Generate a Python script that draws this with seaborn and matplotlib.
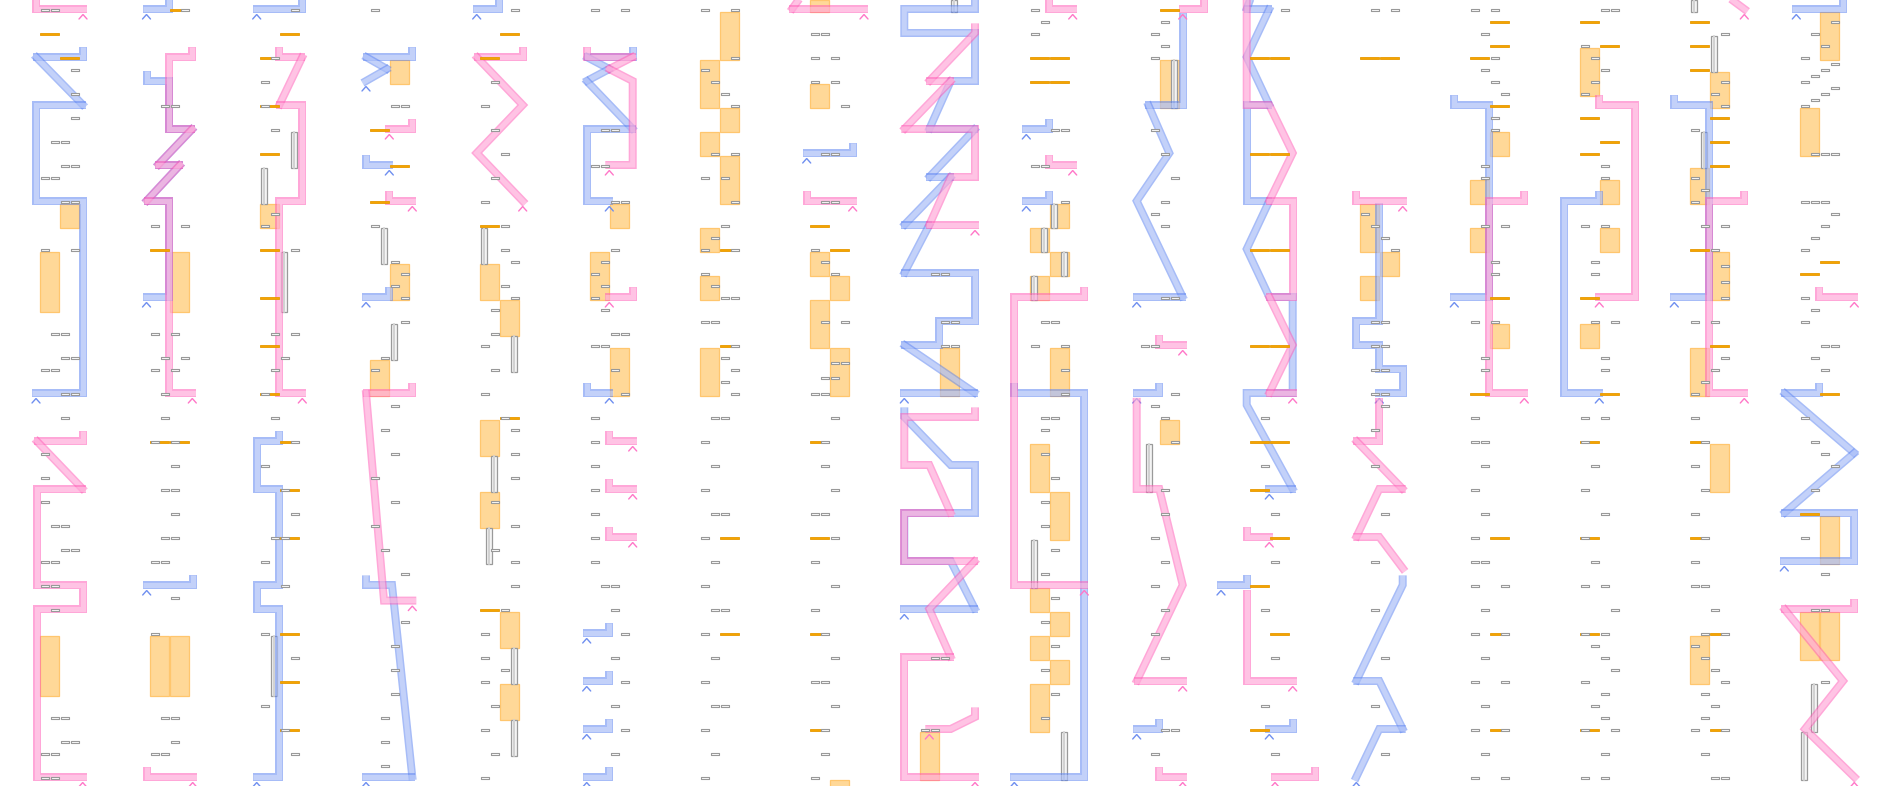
import matplotlib
matplotlib.use("Agg")
import matplotlib.pyplot as plt
from matplotlib.patches import Rectangle
from matplotlib.path import Path
import seaborn as sns
import pandas as pd
import numpy as np

sns.set_theme(style="white")

# ---------------- data (grid units: column, slot, row) ----------------
# gray slot markers: (column, row, slots)
GRAY = [
    (0, 0, "01"), (0, 5, "3"), (0, 7, "3"), (0, 9, "3"), (0, 11, "12"), (0, 13, "23"), (0, 14, "01"),
    (0, 16, "23"), (0, 20, "03"), (0, 27, "12"), (0, 29, "23"), (0, 30, "01"), (0, 32, "23"),
    (1, 0, "3"), (1, 8, "12"), (1, 18, "03"), (1, 27, "02"), (1, 29, "13"), (1, 30, "02"), (1, 32, "1"),
    (2, 0, "3"), (2, 4, "1"), (2, 6, "0"), (2, 8, "0"), (2, 10, "1"), (2, 17, "1"), (2, 18, "0"), (2, 20, "3"),
    (2, 27, "13"), (2, 29, "2"), (2, 30, "1"), (2, 32, "0"),
    (3, 0, "0"), (3, 8, "23"), (3, 18, "0"), (3, 21, "2"), (3, 22, "3"), (3, 23, "2"), (3, 24, "3"),
    (3, 26, "3"), (3, 29, "1"), (3, 30, "0"),
    (4, 0, "3"), (4, 6, "1"), (4, 8, "0"), (4, 10, "1"), (4, 12, "2"), (4, 14, "1"), (4, 16, "0"), (4, 18, "2"),
    (4, 20, "2"), (4, 21, "3"), (4, 23, "2"), (4, 24, "3"), (4, 25, "1"), (4, 27, "1"), (4, 28, "0"),
    (4, 30, "1"), (4, 32, "0"),
    (5, 0, "03"), (5, 10, "12"), (5, 13, "01"), (5, 16, "23"), (5, 20, "2"), (5, 21, "1"), (5, 22, "0"),
    (5, 23, "1"), (5, 24, "0"), (5, 25, "1"), (5, 27, "23"), (5, 28, "01"), (5, 30, "2"), (5, 32, "3"),
    (6, 0, "03"), (6, 4, "3"), (6, 5, "0"), (6, 6, "1"), (6, 7, "2"), (6, 8, "3"), (6, 12, "13"), (6, 14, "02"),
    (6, 16, "3"), (6, 18, "2"), (6, 19, "1"), (6, 20, "03"), (6, 22, "0"), (6, 23, "1"), (6, 24, "23"),
    (6, 26, "01"), (6, 28, "3"), (6, 29, "2"), (6, 30, "3"), (6, 31, "2"), (6, 32, "3"),
    (7, 2, "01"), (7, 4, "02"), (7, 6, "02"), (7, 8, "3"), (7, 12, "12"), (7, 16, "12"), (7, 20, "0"),
    (7, 21, "1"), (7, 22, "2"), (7, 26, "13"), (7, 29.4, "23"), (7, 30.7, "12"), (7, 32, "01"),
    (8, 22, "12"), (8, 26, "23"), (8, 28, "23"),
    (9, 0, "0"), (9, 1, "1"), (9, 2, "0"), (9, 10, "23"), (9, 13, "01"), (9, 16, "3"), (9, 26, "12"),
    (9, 28, "03"), (9, 30, "3"), (9, 32, "3"),
    (10, 1, "2"), (10, 2, "1"), (10, 3, "2"), (10, 4, "1"), (10, 10, "1"), (10, 12, "2"), (10, 14, "3"),
    (10, 16, "2"), (10, 17, "1"), (10, 18, "2"), (10, 24, "23"), (10, 28, "01"), (10, 32, "3"),
    (11, 0, "3"),
    (12, 0, "13"), (12, 17, "0"), (12, 18, "1"), (12, 19, "2"), (12, 20, "3"), (12, 26, "12"), (12, 28, "12"),
    (12, 30, "12"), (12, 32, "12"),
    (13, 0, "02"), (13, 2, "1"), (13, 4, "2"), (13, 5, "1"), (13, 6, "2"), (13, 7, "3"), (13, 9, "2"),
    (13, 10, "2"), (13, 13, "1"), (13, 14, "1"), (13, 18, "13"), (13, 21, "2"), (13, 22, "2"), (13, 26, "02"),
    (13, 29, "1"), (13, 30, "1"),
    (14, 0, "23"), (14, 3, "0"), (14, 4, "1"), (14, 5, "2"), (14, 6, "1"), (14, 7, "0"), (14, 13, "2"),
    (14, 14, "2"), (14, 18, "02"), (14, 21, "1"), (14, 22, "1"), (14, 26, "13"), (14, 29, "2"), (14, 30, "2"),
    (15, 2, "3"), (15, 6, "3"), (15, 7, "2"), (15, 8, "3"), (15, 10, "0"), (15, 14, "0"), (15, 15, "1"),
    (15, 16, "0"), (15, 18, "13"), (15, 20, "2"), (15, 21.33, "3"), (15, 22.67, "3"), (15, 24, "3"),
    (15, 26, "02"), (15, 29, "3"), (15, 30, "2"), (15, 31, "1"), (15, 32, "0"),
    (16, 1, "3"), (16, 2, "1"), (16, 3, "2"), (16, 4, "0"), (16, 4.5, "3"), (16, 5, "2"), (16, 5.5, "1"),
    (16, 6, "0"), (16, 6.5, "3"), (16, 7, "2"), (16, 7.5, "1"), (16, 8, "0"), (16, 12, "123"), (16, 16, "012"),
    (16, 17, "3"), (16, 18, "2"), (16, 19, "1"), (16, 20, "0"), (16, 24, "0"), (16, 25, "1"), (16, 26, "0"),
    (16, 28, "23"), (16, 29, "1"), (16, 30, "2"),
    # lower half
    (0, 34, "2"), (0, 37, "0"), (0, 39, "0"), (0, 41, "0"), (0, 43, "12"), (0, 45, "23"), (0, 46, "01"),
    (0, 48, "01"), (0, 50, "1"), (0, 59, "12"), (0, 61, "23"), (0, 62, "01"), (0, 64, "01"),
    (1, 34, "1"), (1, 36, "02"), (1, 38, "2"), (1, 40, "12"), (1, 42, "2"), (1, 44, "12"), (1, 46, "01"),
    (1, 49, "2"), (1, 52, "0"), (1, 59, "12"), (1, 61, "2"), (1, 62, "01"),
    (2, 34, "1"), (2, 36, "3"), (2, 38, "0"), (2, 40, "2"), (2, 42, "3"), (2, 44, "12"), (2, 46, "0"),
    (2, 48, "2"), (2, 52, "0"), (2, 54, "3"), (2, 58, "0"), (2, 60, "2"), (2, 62, "3"),
    (3, 33, "2"), (3, 35, "1"), (3, 37, "2"), (3, 39, "0"), (3, 41, "2"), (3, 43, "0"), (3, 45, "1"),
    (3, 47, "3"), (3, 51, "3"), (3, 53, "2"), (3, 55, "2"), (3, 57, "2"), (3, 59, "1"), (3, 61, "1"), (3, 63, "1"),
    (4, 34, "2"), (4, 35, "3"), (4, 37, "3"), (4, 39, "3"), (4, 41, "1"), (4, 43, "3"), (4, 45, "1"),
    (4, 46, "3"), (4, 48, "3"), (4, 50, "2"), (4, 52, "0"), (4, 54, "0"), (4, 55, "2"), (4, 56, "0"),
    (4, 58, "1"), (4, 60, "0"), (4, 62, "1"), (4, 64, "0"),
    (5, 34, "0"), (5, 36, "0"), (5, 38, "0"), (5, 40, "0"), (5, 42, "0"), (5, 44, "0"), (5, 46, "0"),
    (5, 48, "12"), (5, 50, "2"), (5, 52, "3"), (5, 54, "2"), (5, 56, "3"), (5, 58, "2"), (5, 60, "3"), (5, 62, "2"),
    (6, 34, "12"), (6, 36, "0"), (6, 38, "1"), (6, 40, "0"), (6, 42, "12"), (6, 44, "0"), (6, 46, "1"),
    (6, 48, "0"), (6, 50, "12"), (6, 52, "0"), (6, 54, "1"), (6, 56, "0"), (6, 58, "12"), (6, 60, "0"),
    (6, 62, "1"), (6, 64, "0"),
    (7, 34, "2"), (7, 36, "1"), (7, 38, "1"), (7, 40, "2"), (7, 42, "01"), (7, 44, "2"), (7, 46, "0"),
    (7, 48, "2"), (7, 50, "0"), (7, 52, "1"), (7, 54, "2"), (7, 56, "01"), (7, 58, "2"), (7, 60, "1"),
    (7, 62, "1"), (7, 64, "0"),
    (8, 54, "12"), (8, 60, "01"),
    (9, 34, "12"), (9, 35, "1"), (9, 37, "1"), (9, 39, "2"), (9, 41, "1"), (9, 43, "1"), (9, 45, "2"),
    (9, 47, "1"), (9, 49, "2"), (9, 51, "1"), (9, 53, "2"), (9, 55, "1"), (9, 57, "2"), (9, 59, "1"),
    (10, 33, "1"), (10, 34, "2"), (10, 36, "3"), (10, 40, "2"), (10, 42, "2"), (10, 44, "1"), (10, 46, "2"),
    (10, 48, "1"), (10, 50, "2"), (10, 52, "1"), (10, 54, "2"), (10, 60, "23"), (10, 62, "1"),
    (11, 34, "1"), (11, 38, "1"), (11, 42, "2"), (11, 46, "2"), (11, 50, "1"), (11, 54, "2"), (11, 58, "1"),
    (11, 62, "2"),
    (12, 33, "2"), (12, 35, "1"), (12, 38, "1"), (12, 42, "2"), (12, 46, "1"), (12, 50, "1"), (12, 54, "2"),
    (12, 58, "1"), (12, 62, "2"),
    (13, 34, "0"), (13, 36, "01"), (13, 38, "1"), (13, 40, "0"), (13, 42, "1"), (13, 44, "0"), (13, 46, "01"),
    (13, 48, "03"), (13, 50, "1"), (13, 52, "03"), (13, 54, "1"), (13, 56, "03"), (13, 58, "1"), (13, 60, "03"),
    (13, 62, "1"), (13, 64, "03"),
    (14, 34, "02"), (14, 36, "0"), (14, 38, "1"), (14, 40, "0"), (14, 42, "2"), (14, 44, "0"), (14, 46, "1"),
    (14, 48, "02"), (14, 50, "3"), (14, 52, "02"), (14, 53, "1"), (14, 54, "2"), (14, 55, "3"), (14, 56, "0"),
    (14, 57, "2"), (14, 58, "1"), (14, 59, "2"), (14, 60, "03"), (14, 62, "2"), (14, 64, "02"),
    (15, 34, "0"), (15, 36, "1"), (15, 38, "0"), (15, 40, "1"), (15, 42, "0"), (15, 44, "1"), (15, 46, "0"),
    (15, 48, "01"), (15, 50, "2"), (15, 52, "13"), (15, 53, "0"), (15, 54, "1"), (15, 55, "2"), (15, 56, "3"),
    (15, 57, "1"), (15, 58, "2"), (15, 59, "1"), (15, 60, "03"), (15, 62, "1"), (15, 64, "23"),
    (16, 34, "0"), (16, 36, "1"), (16, 37, "2"), (16, 38, "3"), (16, 40, "1"), (16, 44, "0"), (16, 47, "2"),
    (16, 50, "12"), (16, 56, "2"),
]

# orange bars two slots wide: (column, row, first slot)
ORANGE_BARS = [
    (0, 2, 0), (0, 4, 2), (1, 0, 2), (1, 20, 0),
    (2, 2, 2), (2, 4, 0), (2, 8, 0), (2, 12, 0), (2, 20, 0), (2, 24, 0), (2, 28, 0), (2, 32, 0),
    (3, 10, 0), (3, 13, 2), (3, 16, 0), (4, 2, 2), (4, 4, 0), (4, 18, 0),
    (6, 20, 2), (6, 28, 2), (7, 18, 0), (7, 20, 2),
    (9, 4, 0), (9, 4, 2), (9, 6, 0), (9, 6, 2), (10, 0, 2),
    (11, 4, 0), (11, 4, 2), (11, 12, 0), (11, 12, 2), (11, 20, 0), (11, 20, 2), (11, 28, 0), (11, 28, 2),
    (12, 4, 0), (12, 4, 2),
    (13, 1, 2), (13, 3, 2), (13, 4, 0), (13, 8, 2), (13, 24, 2), (13, 32, 0),
    (14, 1, 0), (14, 3, 2), (14, 9, 0), (14, 11, 2), (14, 12, 0), (14, 24, 0), (14, 32, 2),
    (15, 1, 0), (15, 3, 0), (15, 5, 0), (15, 9, 2), (15, 11, 2), (15, 13, 2), (15, 20, 0), (15, 28, 2),
    (16, 21, 2), (16, 22, 0), (16, 32, 2),
    # lower half
    (1, 36, 0), (1, 36, 2), (2, 36, 2), (2, 40, 2), (2, 44, 2), (2, 52, 2), (2, 56, 2), (2, 60, 2),
    (4, 34, 2), (4, 50, 0), (6, 44, 2), (6, 52, 2), (7, 36, 0), (7, 44, 0), (7, 52, 0), (7, 60, 0),
    (11, 36, 0), (11, 36, 2), (11, 40, 0), (11, 44, 2), (11, 48, 0), (11, 52, 2), (11, 60, 0),
    (13, 44, 2), (13, 52, 2), (13, 60, 2), (14, 36, 0), (14, 44, 0), (14, 52, 0), (14, 60, 0),
    (15, 36, 0), (15, 44, 0), (15, 52, 2), (15, 60, 2), (16, 42, 0),
]

# orange boxes two slots wide: (column, first slot, row from, row to)
ORANGE_BOXES = [
    (0, 2, 16, 18), (0, 0, 20, 25), (1, 2, 20, 25), (2, 0, 16, 18),
    (3, 2, 4, 6), (3, 2, 21, 24), (3, 0, 29, 32), (4, 0, 21, 24), (4, 2, 24, 27),
    (5, 2, 16, 18), (5, 0, 20, 24), (5, 2, 28, 32),
    (6, 2, 0, 4), (6, 0, 4, 8), (6, 2, 8, 10), (6, 0, 10, 12), (6, 2, 12, 16), (6, 0, 18, 20),
    (6, 0, 22, 24), (6, 0, 28, 32),
    (7, 0, -1, 0), (7, 0, 6, 8), (7, 0, 20, 22), (7, 2, 22, 24), (7, 0, 24, 28), (7, 2, 28, 32),
    (8, 2, 28, 32), (9, 2, 16, 18), (9, 0, 18, 20), (9, 2, 20, 22), (9, 0, 22, 24), (9, 2, 28, 32),
    (10, 2, 4, 8), (12, 0, 16, 20), (12, 2, 20, 22), (12, 0, 22, 24),
    (13, 2, 10, 12), (13, 0, 14, 16), (13, 0, 18, 20), (13, 2, 26, 28),
    (14, 0, 3, 7), (14, 2, 14, 16), (14, 2, 18, 20), (14, 0, 26, 28),
    (15, 2, 5, 8), (15, 0, 13, 16), (15, 2, 20, 24), (15, 0, 28, 32),
    (16, 2, 0, 4), (16, 0, 8, 12),
    # lower half
    (0, 0, 52, 57), (1, 0, 52, 57), (1, 2, 52, 57),
    (4, 0, 34, 37), (4, 0, 40, 43), (4, 2, 50, 53), (4, 2, 56, 59),
    (7, 2, 64, 66), (8, 0, 60, 64),
    (9, 0, 36, 40), (9, 2, 40, 44), (9, 0, 48, 50), (9, 2, 50, 52), (9, 0, 52, 54), (9, 2, 54, 56),
    (9, 0, 56, 60), (10, 2, 34, 36),
    (15, 2, 36, 40), (15, 0, 52, 56), (16, 2, 42, 46), (16, 0, 50, 54), (16, 2, 50, 54),
]

# striped gray bars: (column, left slot, row from, row to)
STRIPES = [
    (2, 3.1, 10, 13), (2, 0.1, 13, 16), (2, 2.1, 20, 25), (3, 1.1, 18, 21), (3, 2.1, 26, 29),
    (4, 0.1, 18, 21), (4, 3.1, 27, 30), (8, 3.1, -1, 0),
    (9, 2.1, 16, 18), (9, 1.1, 18, 20), (9, 3.1, 20, 22), (9, 0.1, 22, 24), (10, 3.1, 4, 8),
    (15, 0.1, -1, 0), (15, 2.1, 2, 5), (15, 1.1, 10, 13),
    # lower half
    (2, 1.1, 52, 57), (4, 1.1, 37, 40), (4, 0.6, 43, 46), (4, 3.1, 53, 56), (4, 3.1, 59, 62),
    (9, 0.1, 44, 48), (9, 3.1, 60, 64), (10, 0.6, 36, 40), (16, 1.1, 56, 60), (16, 0.1, 60, 64),
]

# routed paths: (column, [(slot, row), ...], ends with caret)
BLUE_PATHS = [
    (0, [(4.3, 3.2), (4.3, 4), (-0.4, 4), (4.3, 8), (-0.4, 8), (-0.4, 16), (4.3, 16), (4.3, 32), (-0.4, 32)], True),
    (1, [(1.93, -1.5), (1.93, 0), (-0.35, 0)], True),
    (1, [(-0.35, 5.2), (-0.35, 6), (1.93, 6), (1.93, 10), (4.23, 10), (0.8, 13), (3.0, 13), (-0.35, 16),
         (1.93, 16), (1.93, 24), (-0.35, 24)], True),
    (2, [(4.23, -1.5), (4.23, 0), (-0.33, 0)], True),
    (3, [(4.23, 3.2), (4.23, 4), (-0.4, 4), (1.7, 5), (-0.4, 6)], True),
    (3, [(-0.4, 12.2), (-0.4, 13), (1.93, 13)], True),
    (3, [(1.93, 23.2), (1.93, 24), (-0.4, 24)], True),
    (4, [(1.93, -1.5), (1.93, 0), (-0.33, 0)], True),
    (5, [(4.27, 3.2), (4.27, 4), (-0.33, 4), (1.93, 5), (-0.33, 6), (4.27, 10), (-0.33, 10), (-0.33, 16),
         (1.93, 16)], True),
    (5, [(-0.33, 31.2), (-0.33, 32), (1.93, 32)], True),
    (7, [(4.27, 11.2), (4.27, 12), (-0.33, 12)], True),
    (8, [(5.5, -1.5), (5.5, 0), (-1.57, 0), (-1.57, 2), (5.5, 2), (5.5, 6), (3.07, 6), (0.93, 10), (5.5, 10),
         (0.93, 14), (3.07, 14), (-1.57, 18), (0.93, 18), (-1.57, 22), (5.5, 22), (5.5, 26), (1.93, 26),
         (1.93, 28), (-1.57, 28), (5.5, 32), (-1.57, 32)], True),
    (9, [(1.93, 9.2), (1.93, 10), (-0.37, 10)], True),
    (9, [(1.93, 15.2), (1.93, 16), (-0.37, 16)], True),
    (9, [(-1.57, 31.2), (-1.57, 32), (5.43, 32), (5.43, 64), (-1.57, 64)], True),
    (10, [(4.27, 0.3), (4.27, 8), (0.83, 8), (2.93, 12), (-0.33, 16), (4.27, 24), (-0.33, 24)], True),
    (10, [(1.93, 31.2), (1.93, 32), (-0.33, 32)], True),
    (11, [(0.33, -1.5), (-0.33, 0), (1.93, 0), (-0.33, 4), (1.93, 8), (-0.33, 8), (-0.33, 16), (1.93, 16),
          (-0.33, 20), (1.93, 24), (4.27, 24), (4.27, 32), (-0.33, 32), (-0.33, 33), (4.27, 40),
          (1.93, 40)], True),
    (12, [(1.93, 16.2), (1.93, 26), (-0.37, 26), (-0.37, 28), (1.93, 28), (1.93, 30), (4.27, 30),
          (4.27, 32), (1.93, 32)], True),
    (13, [(-1.57, 7.2), (-1.57, 8), (1.93, 8), (1.93, 24), (-1.57, 24)], True),
    (14, [(1.93, 15.2), (1.93, 16), (-1.57, 16), (-1.57, 32), (1.93, 32)], True),
    (15, [(-1.57, 7.2), (-1.57, 8), (1.93, 8), (1.93, 24), (-1.57, 24)], True),
    (16, [(4.27, -1.5), (4.27, 0), (-0.37, 0)], True),
    (16, [(1.93, 31.2), (1.93, 32), (-1.57, 32), (5.43, 37), (-1.57, 42), (5.43, 42), (5.43, 46),
          (-1.57, 46)], True),
    # lower half
    (1, [(4.27, 47.2), (4.27, 48), (-0.33, 48)], True),
    (2, [(1.93, 35.2), (1.93, 36), (-0.33, 36), (-0.33, 40), (1.93, 40), (1.93, 48), (-0.33, 48),
         (-0.33, 50), (1.93, 50), (1.93, 64), (-0.33, 64)], True),
    (3, [(-0.4, 47.2), (-0.4, 48), (2.2, 48), (4.23, 64), (-0.4, 64)], True),
    (5, [(1.93, 51.2), (1.93, 52), (-0.33, 52)], True),
    (5, [(1.93, 55.2), (1.93, 56), (-0.33, 56)], True),
    (5, [(1.93, 59.2), (1.93, 60), (-0.33, 60)], True),
    (5, [(1.93, 63.2), (1.93, 64), (-0.33, 64)], True),
    (8, [(-1.57, 33.2), (-1.57, 34), (3.07, 38), (5.5, 38), (5.5, 42), (-1.57, 42), (-1.57, 46), (3.07, 46),
         (5.5, 50), (-1.57, 50)], True),
    (10, [(1.93, 59.2), (1.93, 60), (-0.33, 60)], True),
    (11, [(-0.33, 47.2), (-0.33, 48), (-2.9, 48)], True),
    (11, [(4.27, 59.2), (4.27, 60), (1.93, 60)], True),
    (12, [(4.27, 47.2), (4.27, 48), (1.93, 52), (-0.37, 56), (1.93, 56), (4.27, 60), (1.93, 60),
          (-0.37, 64)], True),
]

PINK_PATHS = [
    (0, [(-0.4, -1.5), (-0.4, 0), (4.3, 0)], True),
    (1, [(4.23, 3.2), (4.23, 4), (1.93, 4), (1.93, 10), (4.23, 10), (0.8, 13), (3.0, 13), (-0.35, 16),
         (1.93, 16), (1.93, 32), (4.23, 32)], True),
    (2, [(1.93, 3.2), (1.93, 4), (4.23, 4), (1.93, 8), (4.23, 8), (4.23, 16), (1.93, 16), (1.93, 32), (4.23, 32)], True),
    (3, [(4.23, 9.2), (4.23, 10), (1.93, 10)], True),
    (3, [(1.93, 15.2), (1.93, 16), (4.23, 16)], True),
    (3, [(4.23, 31.2), (4.23, 32), (-0.4, 32), (1.4, 49.3), (4.23, 49.3)], True),
    (4, [(4.27, 3.2), (4.27, 4), (-0.33, 4), (4.27, 8), (-0.33, 12), (4.27, 16)], True),
    (5, [(-0.33, 3.2), (-0.33, 4), (4.27, 4), (1.93, 5), (4.27, 6), (4.27, 13), (1.93, 13)], True),
    (5, [(4.27, 23.2), (4.27, 24), (1.93, 24)], True),
    (7, [(-0.5, -1.5), (-1.8, 0), (5.4, 0)], True),
    (7, [(-0.33, 15.2), (-0.33, 16), (4.27, 16)], True),
    (8, [(5.5, 1.2), (5.5, 2), (0.93, 6), (3.07, 6), (-1.57, 10), (5.5, 10), (5.5, 14), (3.07, 14),
         (0.93, 18), (5.5, 18)], True),
    (9, [(1.93, -1.5), (1.93, 0), (4.27, 0)], True),
    (9, [(1.93, 12.2), (1.93, 13), (4.27, 13)], True),
    (9, [(5.43, 23.2), (5.43, 24), (-1.57, 24), (-1.57, 48), (5.43, 48)], True),
    (10, [(6.43, -1.5), (6.43, 0), (4.27, 0)], True),
    (10, [(1.93, 27.2), (1.93, 28), (4.27, 28)], True),
    (11, [(-0.33, -1.5), (-0.33, 8), (1.93, 8), (4.27, 12), (1.93, 16), (4.27, 16), (4.27, 24), (1.93, 24),
          (4.27, 28), (1.93, 32), (4.27, 32)], True),
    (12, [(-0.37, 15.2), (-0.37, 16), (4.27, 16)], True),
    (13, [(5.43, 15.2), (5.43, 16), (1.93, 16), (1.93, 32), (5.43, 32)], True),
    (14, [(1.93, 7.2), (1.93, 8), (5.5, 8), (5.5, 24), (1.93, 24)], True),
    (15, [(3.0, -1.5), (5.43, 0)], True),
    (15, [(5.43, 15.2), (5.43, 16), (1.93, 16), (1.93, 32), (5.43, 32)], True),
    (16, [(1.93, 23.2), (1.93, 24), (5.43, 24)], True),
    # lower half
    (0, [(4.27, 35.2), (4.27, 36), (-0.33, 36), (4.27, 40), (-0.33, 40), (-0.33, 48), (4.27, 48), (4.27, 50),
         (-0.33, 50), (-0.33, 64), (4.27, 64)], True),
    (1, [(-0.33, 63.2), (-0.33, 64), (4.27, 64)], True),
    (5, [(1.93, 35.2), (1.93, 36), (4.27, 36)], True),
    (5, [(1.93, 39.2), (1.93, 40), (4.27, 40)], True),
    (5, [(1.93, 43.2), (1.93, 44), (4.27, 44)], True),
    (8, [(5.5, 33.2), (5.5, 34), (-1.57, 34), (-1.57, 38), (0.93, 38), (3.07, 42), (-1.57, 42),
         (-1.57, 46), (5.5, 46), (0.93, 50), (3.07, 54), (-1.57, 54), (-1.57, 64), (5.5, 64)], True),
    (8, [(5.5, 58.2), (5.5, 59), (3.07, 60), (0.93, 60)], True),
    (10, [(-0.33, 32.4), (-0.33, 40), (1.93, 40), (4.27, 48), (-0.33, 56), (4.27, 56)], True),
    (10, [(1.93, 63.2), (1.93, 64), (4.27, 64)], True),
    (11, [(-0.33, 43.2), (-0.33, 44), (1.93, 44)], True),
    (11, [(-0.33, 48.4), (-0.33, 56), (4.27, 56)], True),
    (11, [(6.5, 63.2), (6.5, 64), (2.5, 64)], True),
    (12, [(1.93, 32.4), (1.93, 36), (-0.37, 36), (4.27, 40), (1.93, 40), (-0.37, 44), (1.93, 44),
          (4.27, 46.6)], False),
    (16, [(5.43, 49.2), (5.43, 50), (-1.57, 50), (4.3, 56), (0.5, 60), (5.43, 64)], True),
]

# ---------------- layout helpers ----------------
W, H, DPI = 1880, 786, 100
PX = 72.0 / DPI  # points per pixel
COL_W, SLOT_W, ROW_H, X0, Y0 = 110, 10, 12, 40, 10

BLUE, BLUE_EDGE = "#5f86f2", "#6f8ff0"
PINK, PINK_EDGE = "#ff5fb8", "#ff77c8"


def gx(c, s):
    return X0 + COL_W * c + SLOT_W * s


def gy(r):
    return Y0 + ROW_H * r


fig = plt.figure(figsize=(W / DPI, H / DPI), dpi=DPI)
ax = fig.add_axes([0, 0, 1, 1])

# orange boxes
for c, s, r0, r1 in ORANGE_BOXES:
    ax.add_patch(Rectangle((gx(c, s), gy(r0) + 2), 18.5, gy(r1) - gy(r0),
                           facecolor="#ffd898", edgecolor="#ffc66e", lw=0.9, zorder=1))

# striped bars
for c, s, r0, r1 in STRIPES:
    x = gx(c, s)
    ax.add_patch(Rectangle((x, gy(r0) + 2), 6, gy(r1) - gy(r0),
                           facecolor="#f4f4f4", edgecolor="#9a9a9a", lw=0.9, zorder=2))
    ax.plot([x + 3, x + 3], [gy(r0) + 2, gy(r1) + 2], color="#d2d2d2", lw=2 * PX, zorder=2)


def unit(ax_, ay_, bx_, by_):
    d = np.hypot(bx_ - ax_, by_ - ay_)
    return (bx_ - ax_) / d, (by_ - ay_) / d


def draw_path(c, pts, caret, base, edge):
    xs = [gx(c, s) for s, r in pts]
    ys = [gy(r) - 1 for s, r in pts]
    n = len(xs)
    # split the route at sharp (acute) turns so the miter joins stay compact
    pieces, cur = [], [(xs[0], ys[0])]
    for i in range(1, n):
        cur.append((xs[i], ys[i]))
        if 0 < i < n - 1:
            u1 = unit(xs[i - 1], ys[i - 1], xs[i], ys[i])
            u2 = unit(xs[i], ys[i], xs[i + 1], ys[i + 1])
            if u1[0] * u2[0] + u1[1] * u2[1] < -0.05:
                pieces.append(cur)
                cur = [(xs[i], ys[i])]
    pieces.append(cur)
    for k, pc in enumerate(pieces):
        px = np.array([p[0] for p in pc], dtype=float)
        py = np.array([p[1] for p in pc], dtype=float)
        ext_end = 4.0 if k == len(pieces) - 1 else 3.0
        dx, dy = unit(px[-2], py[-2], px[-1], py[-1])
        px[-1] += ext_end * dx
        py[-1] += ext_end * dy
        if k > 0:
            dx, dy = unit(px[0], py[0], px[1], py[1])
            px[0] -= 3.0 * dx
            py[0] -= 3.0 * dy
        ax.plot(px, py, color=base, alpha=0.55, lw=8 * PX, solid_joinstyle="miter",
                solid_capstyle="butt", zorder=3)
        ax.plot(px, py, color="white", alpha=0.32, lw=5 * PX, solid_joinstyle="miter",
                solid_capstyle="butt", zorder=3)
    if caret:
        xe, ye = xs[-1], ys[-1]
        ax.plot([xe - 4, xe, xe + 4], [ye + 10, ye + 5.5, ye + 10], color=edge, lw=1.4 * PX,
                solid_joinstyle="miter", zorder=3)


for c, pts, caret in BLUE_PATHS:
    draw_path(c, pts, caret, BLUE, BLUE_EDGE)
for c, pts, caret in PINK_PATHS:
    draw_path(c, pts, caret, PINK, PINK_EDGE)

# orange bars
for c, r, s in ORANGE_BARS:
    ax.add_patch(Rectangle((gx(c, s), gy(r) - 1.3), 19, 2.6,
                           facecolor="#f5a400", edgecolor="#e69800", lw=0.6, zorder=4))

# gray slot markers (seaborn scatter with a flat rectangle marker)
rows = []
for c, r, slots in GRAY:
    for ch in slots:
        rows.append({"x": gx(c, int(ch)) + 4.5, "y": gy(r)})
df = pd.DataFrame(rows)
rect_marker = Path([(-0.5, -0.13), (0.5, -0.13), (0.5, 0.13), (-0.5, 0.13), (-0.5, -0.13)],
                   [Path.MOVETO, Path.LINETO, Path.LINETO, Path.LINETO, Path.CLOSEPOLY])
sns.scatterplot(data=df, x="x", y="y", ax=ax, marker=rect_marker, s=(8 * PX) ** 2,
                color="white", edgecolor="#999999", linewidth=0.8, zorder=5, legend=False)
ax.set_xlim(0, W)
ax.set_ylim(H, 0)
ax.axis("off")

fig.savefig("out.png", dpi=DPI)
